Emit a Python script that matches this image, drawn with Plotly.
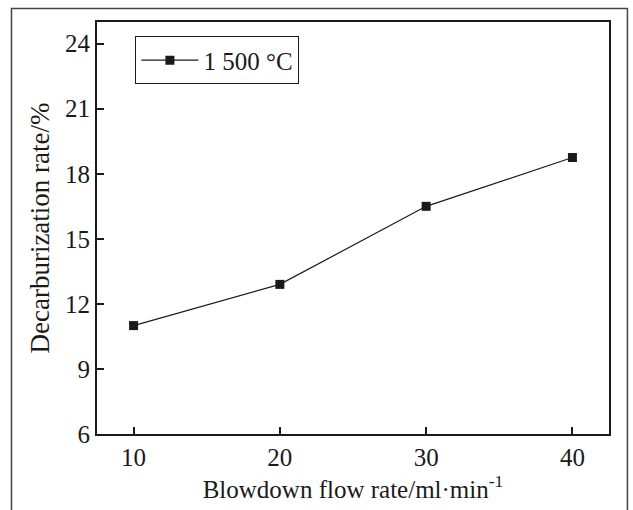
import plotly.graph_objects as go

flow_rate = [10, 20, 30, 40]
decarb_rate = [11.0, 12.9, 16.5, 18.75]
series_name = "1 500 °C"
y_ticks = [6, 9, 12, 15, 18, 21, 24]
x_ticks = [10, 20, 30, 40]

FONT = "Liberation Serif"

fig = go.Figure()
fig.add_trace(go.Scatter(
    x=flow_rate, y=decarb_rate, mode="lines+markers", name=series_name,
    line=dict(color="#1a1a1a", width=1.2),
    marker=dict(symbol="square", size=9, color="#1a1a1a"),
))

axis_common = dict(
    showline=True, linecolor="#1a1a1a", linewidth=2, mirror=True,
    ticks="inside", ticklen=7, tickwidth=1.5, tickcolor="#1a1a1a",
    showgrid=False, zeroline=False,
)

fig.update_layout(
    width=633, height=510,
    margin=dict(l=97, r=24, t=22, b=76),
    paper_bgcolor="white", plot_bgcolor="white",
    font=dict(family=FONT, size=25, color="#1a1a1a"),
    xaxis=dict(range=[7.5, 42.5], tickvals=x_ticks,
               tickfont=dict(family=FONT, size=25),
               title=dict(text="Blowdown flow rate/ml·min<sup>-1</sup>",
                          font=dict(size=25), standoff=8),
               **axis_common),
    yaxis=dict(range=[6, 25], tickvals=y_ticks,
               tickfont=dict(family=FONT, size=25),
               title=dict(text="Decarburization rate/%",
                          font=dict(size=27), standoff=8),
               **axis_common),
    showlegend=True,
    legend=dict(x=0.075, y=0.965, xanchor="left", yanchor="top",
                bordercolor="#1a1a1a", borderwidth=1, bgcolor="white",
                font=dict(family=FONT, size=25),
                itemwidth=57),
    shapes=[dict(type="rect", xref="paper", yref="paper",
                 x0=-0.167, x1=1.036, y0=-0.25, y1=1.033,
                 line=dict(color="#444", width=1.5))],
)

fig.write_html("out.html")
